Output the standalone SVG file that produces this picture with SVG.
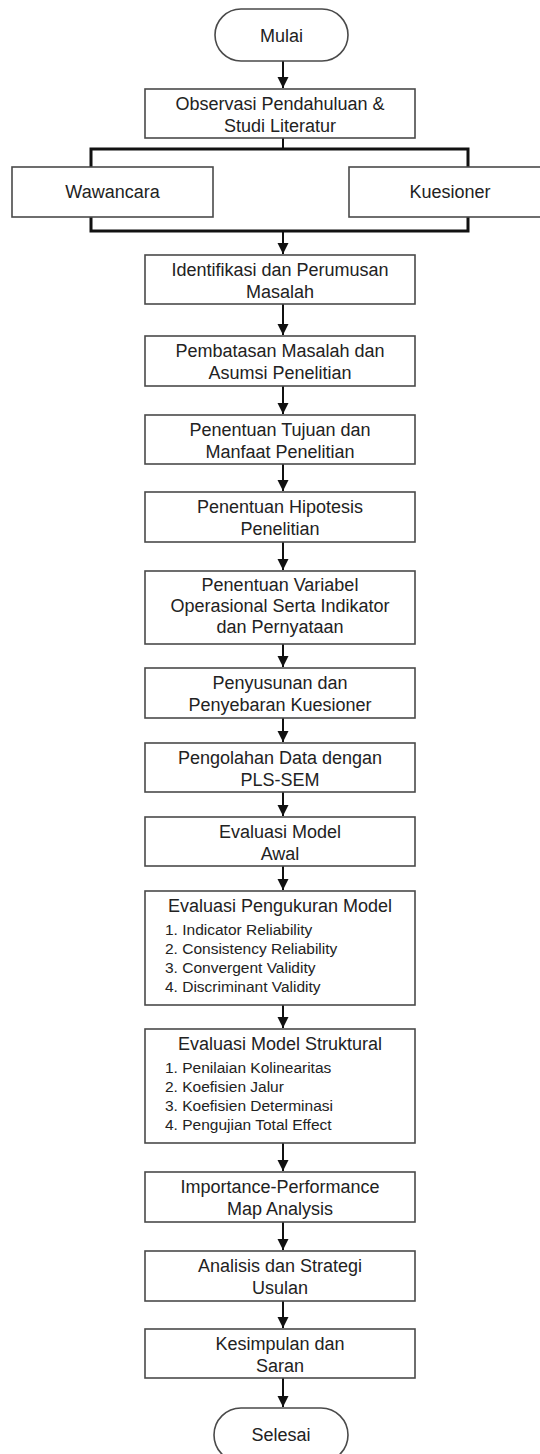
<svg xmlns="http://www.w3.org/2000/svg" width="540" height="1454" viewBox="0 0 540 1454">
<defs>
<style>
.box{fill:#fff;stroke:#4a4a4a;stroke-width:1.6}
.t{font-family:"Liberation Sans",Arial,sans-serif;font-size:18px;fill:#222;text-anchor:middle}
.li{font-family:"Liberation Sans",Arial,sans-serif;font-size:15.5px;fill:#222}
.c{fill:none;stroke:#111;stroke-width:2}
.br{fill:none;stroke:#111;stroke-width:3}
</style>
<marker id="ah" markerUnits="userSpaceOnUse" markerWidth="12" markerHeight="12" refX="11" refY="6" orient="auto">
<path d="M0,0.5 L11,6 L0,11.5 Z" fill="#111"/>
</marker>
</defs>
<rect width="540" height="1454" fill="#fff"/>
<g id="connectors">
<line class="c" x1="283" y1="61" x2="283" y2="88" marker-end="url(#ah)"/>
<line class="c" x1="283" y1="138" x2="283" y2="149"/>
<path class="br" d="M91 167 V149 H468 V167"/>
<path class="br" d="M91 217 V231 H468 V217"/>
<line class="c" x1="283" y1="231" x2="283" y2="254" marker-end="url(#ah)"/>
<line class="c" x1="283" y1="304" x2="283" y2="335" marker-end="url(#ah)"/>
<line class="c" x1="283" y1="386" x2="283" y2="414" marker-end="url(#ah)"/>
<line class="c" x1="283" y1="464" x2="283" y2="491" marker-end="url(#ah)"/>
<line class="c" x1="283" y1="542" x2="283" y2="570" marker-end="url(#ah)"/>
<line class="c" x1="283" y1="644" x2="283" y2="667" marker-end="url(#ah)"/>
<line class="c" x1="283" y1="718" x2="283" y2="742" marker-end="url(#ah)"/>
<line class="c" x1="283" y1="792" x2="283" y2="816" marker-end="url(#ah)"/>
<line class="c" x1="283" y1="866" x2="283" y2="890" marker-end="url(#ah)"/>
<line class="c" x1="283" y1="1005" x2="283" y2="1028" marker-end="url(#ah)"/>
<line class="c" x1="283" y1="1143" x2="283" y2="1171" marker-end="url(#ah)"/>
<line class="c" x1="283" y1="1222" x2="283" y2="1250" marker-end="url(#ah)"/>
<line class="c" x1="283" y1="1301" x2="283" y2="1328" marker-end="url(#ah)"/>
<line class="c" x1="283" y1="1378" x2="283" y2="1407" marker-end="url(#ah)"/>
</g>
<g id="mulai">
<rect class="box" x="215" y="9" width="133" height="52" rx="26"/>
<text class="t" x="281.5" y="42">Mulai</text>
</g>
<g id="observasi">
<rect class="box" x="145" y="89" width="270" height="49"/>
<text class="t" x="280" y="110">Observasi Pendahuluan &amp;</text>
<text class="t" x="280" y="132">Studi Literatur</text>
</g>
<g id="wawancara">
<rect class="box" x="12" y="167" width="201" height="50"/>
<text class="t" x="112.5" y="198">Wawancara</text>
</g>
<g id="kuesioner">
<rect class="box" x="349" y="167" width="201" height="50"/>
<text class="t" x="450" y="198">Kuesioner</text>
</g>
<g id="identifikasi">
<rect class="box" x="145" y="255" width="270" height="49"/>
<text class="t" x="280" y="276">Identifikasi dan Perumusan</text>
<text class="t" x="280" y="298">Masalah</text>
</g>
<g id="pembatasan">
<rect class="box" x="145" y="336" width="270" height="50"/>
<text class="t" x="280" y="357">Pembatasan Masalah dan</text>
<text class="t" x="280" y="379">Asumsi Penelitian</text>
</g>
<g id="tujuan">
<rect class="box" x="145" y="415" width="270" height="49"/>
<text class="t" x="280" y="436">Penentuan Tujuan dan</text>
<text class="t" x="280" y="458">Manfaat Penelitian</text>
</g>
<g id="hipotesis">
<rect class="box" x="145" y="492" width="270" height="50"/>
<text class="t" x="280" y="513">Penentuan Hipotesis</text>
<text class="t" x="280" y="535">Penelitian</text>
</g>
<g id="variabel">
<rect class="box" x="145" y="571" width="270" height="73"/>
<text class="t" x="280" y="591">Penentuan Variabel</text>
<text class="t" x="280" y="612">Operasional Serta Indikator</text>
<text class="t" x="280" y="633">dan Pernyataan</text>
</g>
<g id="penyusunan">
<rect class="box" x="145" y="668" width="270" height="50"/>
<text class="t" x="280" y="689">Penyusunan dan</text>
<text class="t" x="280" y="711">Penyebaran Kuesioner</text>
</g>
<g id="pengolahan">
<rect class="box" x="145" y="743" width="270" height="49"/>
<text class="t" x="280" y="764">Pengolahan Data dengan</text>
<text class="t" x="280" y="786">PLS-SEM</text>
</g>
<g id="evaluasi-awal">
<rect class="box" x="145" y="817" width="270" height="49"/>
<text class="t" x="280" y="838">Evaluasi Model</text>
<text class="t" x="280" y="860">Awal</text>
</g>
<g id="evaluasi-pengukuran">
<rect class="box" x="145" y="891" width="270" height="114"/>
<text class="t" x="280" y="912">Evaluasi Pengukuran Model</text>
<text class="li" x="165" y="935">1. Indicator Reliability</text>
<text class="li" x="165" y="954">2. Consistency Reliability</text>
<text class="li" x="165" y="973">3. Convergent Validity</text>
<text class="li" x="165" y="992">4. Discriminant Validity</text>
</g>
<g id="evaluasi-struktural">
<rect class="box" x="145" y="1029" width="270" height="114"/>
<text class="t" x="280" y="1050">Evaluasi Model Struktural</text>
<text class="li" x="165" y="1073">1. Penilaian Kolinearitas</text>
<text class="li" x="165" y="1092">2. Koefisien Jalur</text>
<text class="li" x="165" y="1111">3. Koefisien Determinasi</text>
<text class="li" x="165" y="1130">4. Pengujian Total Effect</text>
</g>
<g id="ipma">
<rect class="box" x="145" y="1172" width="270" height="50"/>
<text class="t" x="280" y="1193">Importance-Performance</text>
<text class="t" x="280" y="1215">Map Analysis</text>
</g>
<g id="analisis">
<rect class="box" x="145" y="1251" width="270" height="50"/>
<text class="t" x="280" y="1272">Analisis dan Strategi</text>
<text class="t" x="280" y="1294">Usulan</text>
</g>
<g id="kesimpulan">
<rect class="box" x="145" y="1329" width="270" height="49"/>
<text class="t" x="280" y="1350">Kesimpulan dan</text>
<text class="t" x="280" y="1372">Saran</text>
</g>
<g id="selesai">
<rect class="box" x="214" y="1408" width="134" height="54" rx="27"/>
<text class="t" x="281" y="1441">Selesai</text>
</g>
</svg>
